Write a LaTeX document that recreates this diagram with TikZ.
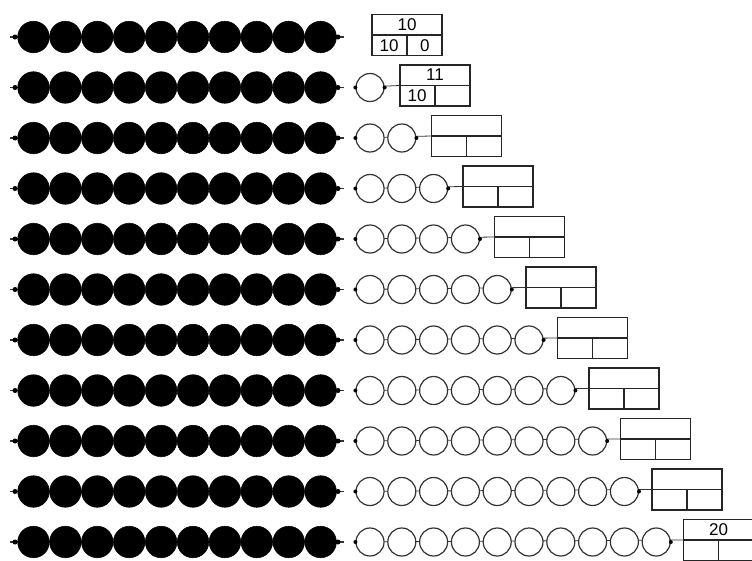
\documentclass[tikz,border=0pt]{standalone}
\usepackage{fontspec}
\setmainfont{Liberation Sans}
\usetikzlibrary{calc}
\begin{document}
\begin{tikzpicture}[x=1pt,y=-1pt,
  blackbead/.style={circle,fill=black,draw=black,line width=0.5pt,minimum size=31.6pt,inner sep=0pt},
  openbead/.style={circle,draw=black!80,line width=1.2pt,fill=white,minimum size=28pt,inner sep=0pt},
  beadstring/.style={line width=1.3pt,black!80},
  knob/.style={circle,fill=black,inner sep=0pt,minimum size=5pt},
  tbox/.style={draw=black!85,line width=1.3pt,minimum width=70pt,minimum height=41pt,inner sep=0pt},
  divline/.style={draw=black!85,line width=1.3pt},
  digit/.style={font=\fontsize{17}{17}\selectfont,inner sep=0pt}
]
\useasboundingbox (0,0) rectangle (752,560);
\begin{scope}
\clip (0,0) rectangle (752,560);
\foreach \k in {1,...,11}{
  \pgfmathsetmacro{\yy}{37+50.5*(\k-1)}
  \pgfmathsetmacro{\by}{\yy-2}
  \pgfmathsetmacro{\bx}{\k==1 ? 407 : 435+31.5*(\k-2)}
  % counting box
  \node[tbox] (box\k) at (\bx,\by) {};
  \draw[divline] (box\k.west) -- (box\k.east);
  \draw[divline] (box\k.center) -- (box\k.south);
  % string of the ten black beads
  \coordinate (L\k) at (10,\yy);
  \coordinate (R\k) at (344,\yy);
  \draw[beadstring] (L\k) -- (R\k);
  \node[knob] (kl\k) at (15,\yy) {};
  \node[knob] (kr\k) at (338,\yy) {};
  \foreach \i in {1,...,10}{
    \node[blackbead] (b\k-\i) at ({33.5+31.9*(\i-1)},\yy) {};
  }
  % open beads
  \ifnum\k>1
    \coordinate (OL\k) at (354,\yy);
    \draw[beadstring,line width=0.8pt] (OL\k) -- (box\k.west);
    \foreach \j in {2,...,\k}{
      \node[openbead] (o\k-\j) at ({370+31.8*(\j-2)},\yy) {};
    }
    \node[knob,minimum size=4pt] (okl\k) at (o\k-2.west) {};
    \node[knob,minimum size=4pt] (okr\k) at (o\k-\k.east) {};
  \fi
}
\node[digit] (t1a) at ($(box1.north)!0.5!(box1.center)$) {10};
\node[digit] (t1b) at ($(box1.south west)!0.5!(box1.center)$) {10};
\node[digit] (t1c) at ($(box1.south east)!0.5!(box1.center)$) {0};
\node[digit] (t2a) at ($(box2.north)!0.5!(box2.center)$) {11};
\node[digit] (t2b) at ($(box2.south west)!0.5!(box2.center)$) {10};
\node[digit] (t11a) at ($(box11.north)!0.5!(box11.center)$) {20};
\end{scope}
\end{tikzpicture}
\end{document}
